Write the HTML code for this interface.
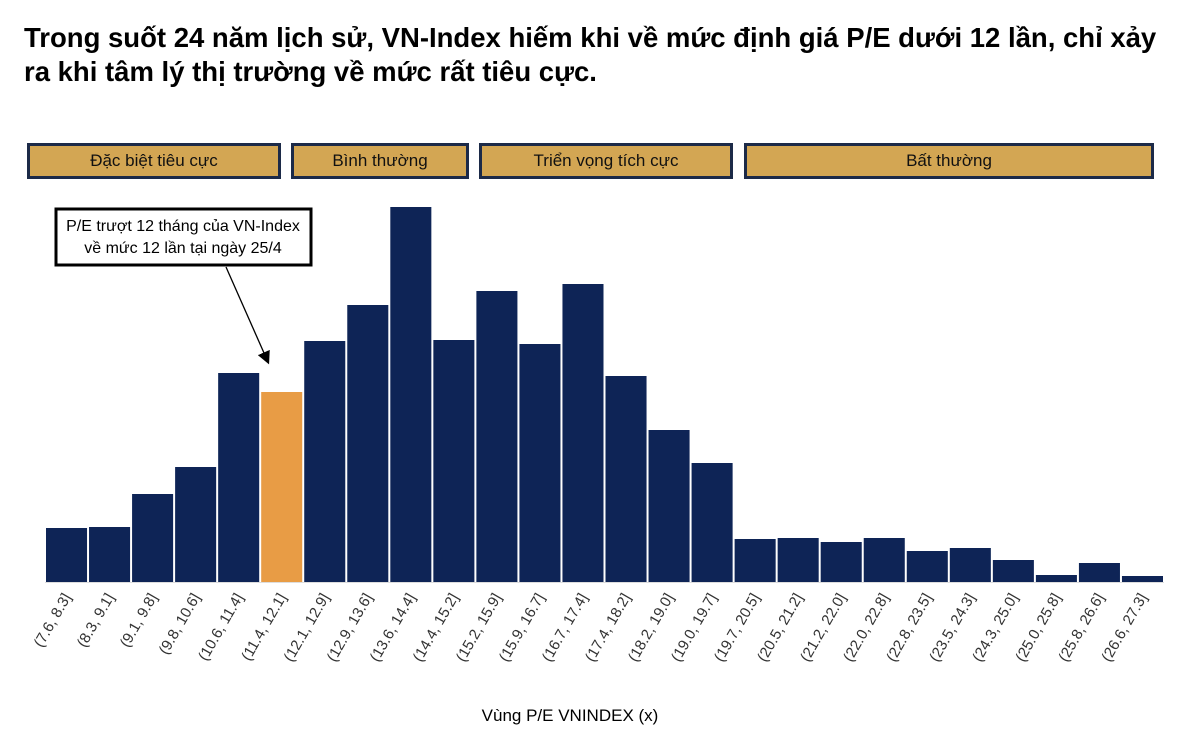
<!DOCTYPE html>
<html><head><meta charset="utf-8"><style>
body{margin:0;background:#fff;width:1200px;height:736px;overflow:hidden;font-family:"Liberation Sans",sans-serif}
.title{position:absolute;left:24px;top:21px;font-size:27.5px;font-weight:bold;line-height:34px;color:#000;white-space:nowrap}
.cat{position:absolute;top:143px;height:30px;background:#d3a653;border:3px solid #1c2a48;font-size:17px;text-align:center;line-height:30px;color:#111}
</style></head><body>
<div class="title">Trong suốt 24 năm lịch sử, VN-Index hiếm khi về mức định giá P/E dưới 12 lần, chỉ xảy<br>ra khi tâm lý thị trường về mức rất tiêu cực.</div>
<div class="cat" style="left:27px;width:248px">Đặc biệt tiêu cực</div>
<div class="cat" style="left:291px;width:172px">Bình thường</div>
<div class="cat" style="left:479px;width:248px">Triển vọng tích cực</div>
<div class="cat" style="left:744px;width:404px">Bất thường</div>
<svg id="chart" width="1200" height="736" style="position:absolute;left:0;top:0"></svg>
<script>
const categories=["(7.6, 8.3]","(8.3, 9.1]","(9.1, 9.8]","(9.8, 10.6]","(10.6, 11.4]","(11.4, 12.1]","(12.1, 12.9]","(12.9, 13.6]","(13.6, 14.4]","(14.4, 15.2]","(15.2, 15.9]","(15.9, 16.7]","(16.7, 17.4]","(17.4, 18.2]","(18.2, 19.0]","(19.0, 19.7]","(19.7, 20.5]","(20.5, 21.2]","(21.2, 22.0]","(22.0, 22.8]","(22.8, 23.5]","(23.5, 24.3]","(24.3, 25.0]","(25.0, 25.8]","(25.8, 26.6]","(26.6, 27.3]"];
const counts=[54,55,88,115,209,190,241,277,375,242,291,238,298,206,152,119,43,44,40,44,31,34,22,7,19,6];
const highlightIndex=5;
const svg=document.getElementById('chart');
const NS='http://www.w3.org/2000/svg';
const x0=45,x1=1164,base=582,yMax=375,yTopPx=207;
const bw=(x1-x0)/categories.length;
const xs=i=>x0+i*bw;
const ys=v=>base-(v/yMax)*(base-yTopPx);
categories.forEach((c,i)=>{
  const r=document.createElementNS(NS,'rect');
  r.setAttribute('x',xs(i)+1);r.setAttribute('width',bw-2);
  r.setAttribute('y',ys(counts[i]));r.setAttribute('height',base-ys(counts[i]));
  r.setAttribute('fill',i===highlightIndex?'#e89c45':'#0e2456');
  
  
  svg.appendChild(r);
  const t=document.createElementNS(NS,'text');
  const cx=xs(i)+bw/2+5,cy=base+15;
  t.setAttribute('x',cx);t.setAttribute('y',cy);
  t.setAttribute('text-anchor','end');
  t.setAttribute('transform','rotate(-60 '+cx+' '+cy+')');
  t.setAttribute('font-size','15');t.setAttribute('fill','#333');
  t.setAttribute('font-family','Liberation Sans, sans-serif');
  t.textContent=c;
  
  
  svg.appendChild(t);
});
const ax=document.createElementNS(NS,'line');
ax.setAttribute('x1',x0);ax.setAttribute('x2',x1);ax.setAttribute('y1',base+0.5);ax.setAttribute('y2',base+0.5);
ax.setAttribute('stroke','#ddd');


svg.appendChild(ax);
</script>
<svg width="1200" height="736" style="position:absolute;left:0;top:0">
<defs><marker id="ah" markerWidth="10" markerHeight="10" refX="8" refY="5" orient="auto"><path d="M0,0 L10,5 L0,10 z" fill="#000"/></marker></defs>
<rect x="56" y="209" width="255" height="56" fill="#fff" stroke="#000" stroke-width="3"/>
<text x="183" y="231" text-anchor="middle" font-size="16" font-family="Liberation Sans, sans-serif">P/E trượt 12 tháng của VN-Index</text>
<text x="183" y="253" text-anchor="middle" font-size="16" font-family="Liberation Sans, sans-serif">về mức 12 lần tại ngày 25/4</text>
<line x1="226" y1="267" x2="268" y2="362" stroke="#000" stroke-width="1.3" marker-end="url(#ah)"/>
<text x="570" y="721" text-anchor="middle" font-size="17" font-family="Liberation Sans, sans-serif">Vùng P/E VNINDEX (x)</text>
</svg>
</body></html>
